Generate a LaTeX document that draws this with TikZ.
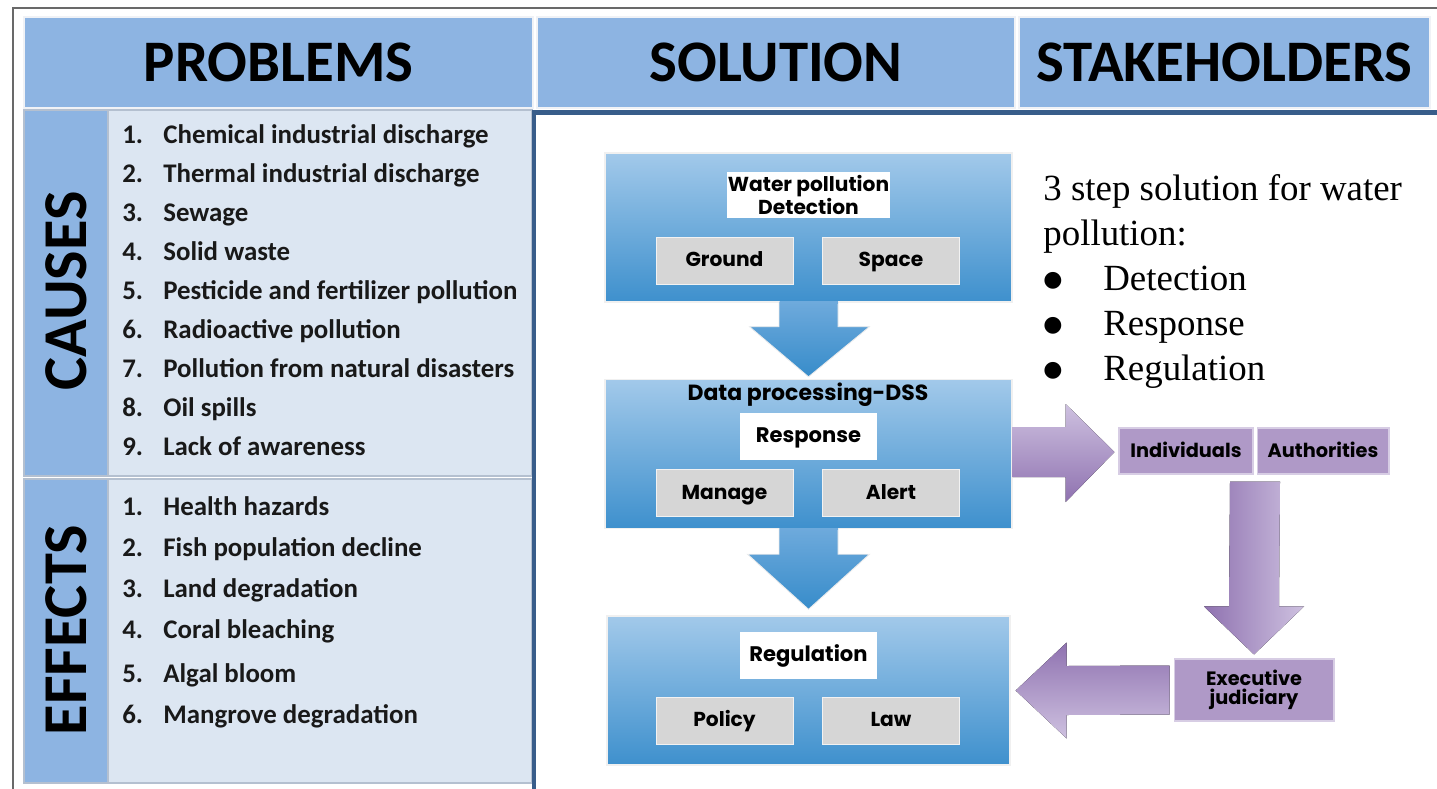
\documentclass[tikz,border=0pt]{standalone}
\usepackage{fontspec}
\setmainfont{Liberation Serif}
\newfontfamily\calib{Carlito}
\newfontfamily\geo{Poppins}
\newfontfamily\dejavu{DejaVu Sans}
\usetikzlibrary{calc}

\definecolor{hdrblue}{RGB}{141,180,226}
\definecolor{paleblue}{RGB}{220,230,242}
\definecolor{cellline}{RGB}{180,192,208}
\definecolor{panelblue}{RGB}{56,93,138}
\definecolor{boxtop}{RGB}{162,201,234}
\definecolor{boxbot}{RGB}{62,144,205}
\definecolor{arrtop}{RGB}{110,170,220}
\definecolor{arrbot}{RGB}{55,140,202}
\definecolor{tagbox}{RGB}{214,214,214}
\definecolor{lilac}{RGB}{175,153,199}
\definecolor{lilacedge}{RGB}{215,205,228}
\definecolor{lilaclight}{RGB}{206,193,224}
\definecolor{lilacdark}{RGB}{143,114,176}
\definecolor{framegray}{RGB}{105,105,105}

\newcommand{\notebullet}{\makebox[1.2cm][l]{\raisebox{2.2pt}{\dejavu\fontsize{12.5}{12.5}\selectfont ●}}}

\tikzset{
  hdrcell/.style={fill=hdrblue, draw=white!80!cellline, line width=1.2pt,
    inner sep=0pt, minimum height=1.82cm, font=\calib\bfseries\fontsize{33.5}{40}\selectfont},
  sidecell/.style={fill=hdrblue, draw=cellline, line width=0.8pt, inner sep=0pt,
    minimum width=1.68cm},
  listcell/.style={fill=paleblue, draw=cellline, line width=0.8pt, inner sep=0pt,
    minimum width=8.48cm},
  sidelabel/.style={rotate=90, font=\calib\bfseries\fontsize{35.5}{40}\selectfont},
  item/.style={anchor=mid west, inner sep=0pt,
    font=\calib\bfseries\fontsize{15.3}{18}\selectfont, text=black!90},
  stepbox/.style={top color=boxtop, bottom color=boxbot, draw=white!88!gray,
    line width=0.8pt, inner sep=0pt, minimum height=2.98cm},
  whitetag/.style={fill=white, inner sep=0pt, align=center,
    font=\geo\bfseries\fontsize{11.5}{11}\selectfont},
  onelinetag/.style={text height=0.72em, text depth=0.02em},
  graytag/.style={fill=tagbox, draw=white!90!gray, line width=0.4pt, inner sep=0pt,
    minimum width=2.74cm, minimum height=0.94cm, onelinetag,
    font=\geo\bfseries\fontsize{11.5}{13}\selectfont},
  purplebox/.style={fill=lilac, draw=lilacedge, line width=0.6pt, inner sep=0pt,
    align=center, font=\geo\bfseries\fontsize{11}{11}\selectfont},
  bluearrow/.style={top color=arrtop, bottom color=arrbot, draw=white!85!gray, line width=0.5pt},
  noteline/.style={anchor=base west, inner sep=0pt,
    font=\fontsize{21}{25}\selectfont},
}

\begin{document}
\begin{tikzpicture}[x=0.02cm, y=-0.02cm]
\useasboundingbox (0,0) rectangle (1437,788);

% outer frame
\draw[framegray, line width=1.1pt] (13,790) -- (13,8) -- (1440,8);

% header row
\node[hdrcell, minimum width=10.18cm] (hprob) at (278.5,62.5) {PROBLEMS};
\node[hdrcell, minimum width=9.56cm]  (hsol)  at (776,62.5)   {SOLUTION};
\node[hdrcell, minimum width=8.22cm]  (hstak) at (1224.5,62.5) {STAKEHOLDERS};

% causes / effects table
\node[sidecell, minimum height=7.32cm] (cside) at (66,293) {};
\node[listcell, minimum height=7.32cm] (clist) at (320,293) {};
\node[sidecell, minimum height=6.08cm] (eside) at (66,631) {};
\node[listcell, minimum height=6.08cm] (elist) at (320,631) {};
\node[sidelabel] (causes)  at (66,291) {CAUSES};
\node[sidelabel] (effects) at (66,630) {EFFECTS};

\foreach \n/\t [count=\i from 0] in {
  1./Chemical industrial discharge,
  2./Thermal industrial discharge,
  3./Sewage,
  4./Solid waste,
  5./Pesticide and fertilizer pollution,
  6./Radioactive pollution,
  7./Pollution from natural disasters,
  8./Oil spills,
  9./Lack of awareness}
  \node[item] (c\i) at (122,{139+39*\i}) {\makebox[0.82cm][l]{\n}\t};

\foreach \n/\t/\yy [count=\i from 0] in {
  1./Health hazards/511,
  2./Fish population decline/552,
  3./Land degradation/593,
  4./Coral bleaching/634,
  5./Algal bloom/678,
  6./Mangrove degradation/719}
  \node[item] (e\i) at (122,\yy) {\makebox[0.82cm][l]{\n}\t};

% solution panel
\draw[panelblue, line width=2.3pt] (534,800) -- (534,112.5) -- (1445,112.5);

% three solution steps
\node[stepbox, minimum width=8.14cm] (b1) at (808.5,227.5) {};
\node[stepbox, minimum width=8.14cm] (b2) at (808.5,454) {};
\node[stepbox, minimum width=8.06cm] (b3) at (808.5,690.5) {};

% block arrows between the steps
\path[bluearrow]
  ($(b1.south)+(-29.5,-1)$) -- ($(b1.south)+(-29.5,24)$) -- ($(b1.south)+(-59,24)$)
  -- ($(b2.north)+(0,-2)$)
  -- ($(b1.south)+(61,24)$) -- ($(b1.south)+(29.5,24)$) -- ($(b1.south)+(29.5,-1)$);
\fill[arrtop] ($(b1.south)+(-29,-1.5)$) rectangle ($(b1.south)+(29,1)$);
\path[bluearrow]
  ($(b2.south)+(-29.5,-1)$) -- ($(b2.south)+(-29.5,25)$) -- ($(b2.south)+(-61,25)$)
  -- ($(b3.north)+(0,-6)$)
  -- ($(b2.south)+(61,25)$) -- ($(b2.south)+(29.5,25)$) -- ($(b2.south)+(29.5,-1)$);
\fill[arrtop] ($(b2.south)+(-29,-1.5)$) rectangle ($(b2.south)+(29,1)$);

% step 1
\node[whitetag, minimum width=3.26cm, minimum height=0.92cm] (detect) at (808.5,195)
  {Water pollution\\Detection};
\node[graytag] (ground) at (724.5,260.5) {Ground};
\node[graytag] (space)  at (891,260.5)   {Space};

% step 2
\node[font=\geo\bfseries\fontsize{12.5}{14}\selectfont, inner sep=0pt] (dss) at (808,395) {Data processing-DSS};
\node[whitetag, minimum width=2.74cm, minimum height=0.94cm, onelinetag,
  font=\geo\bfseries\fontsize{12}{14}\selectfont] (resp) at (808.5,436.5) {Response};
\node[graytag] (manage) at (724.5,493) {Manage};
\node[graytag] (alert)  at (891,493)   {Alert};

% step 3
\node[whitetag, minimum width=2.74cm, minimum height=0.94cm, onelinetag,
  font=\geo\bfseries\fontsize{12}{14}\selectfont] (regul) at (808.5,655) {Regulation};
\node[graytag] (policy) at (724.5,720.5) {Policy};
\node[graytag] (law)    at (891,720.5)   {Law};

% stakeholders
\node[purplebox, minimum width=2.68cm, minimum height=0.92cm, onelinetag] (ind)  at (1186,451) {Individuals};
\node[purplebox, minimum width=2.64cm, minimum height=0.92cm, onelinetag] (auth) at (1323,451) {Authorities};
\node[purplebox, minimum width=3.2cm, minimum height=1.24cm] (exec) at (1254,690) {Executive\\judiciary};

% response -> stakeholders
\coordinate (ra) at ($(b2.east)+(0,-2)$);
\fill[top color=lilaclight, bottom color=lilacdark]
  ($(ra)+(0,-25)$) -- ($(ra)+(53,-25)$) -- ($(ra)+(53,-48)$)
  -- ($(ind.west)+(-4,1)$)
  -- ($(ra)+(53,50)$) -- ($(ra)+(53,25)$) -- ($(ra)+(0,25)$) -- cycle;

% stakeholders -> executive / judiciary
\coordinate (da) at ($(ind.south east)!0.5!(auth.south west)$);
\fill[left color=lilacdark, right color=lilaclight]
  ($(da)+(-25,7)$) -- ($(da)+(25,7)$) -- ($(exec.north)+(25,-52)$)
  -- ($(exec.north)+(50,-52)$) -- ($(exec.north)+(0,-4)$)
  -- ($(exec.north)+(-50,-52)$) -- ($(exec.north)+(-25,-52)$) -- cycle;

% executive / judiciary -> regulation
\fill[top color=lilacdark, bottom color=lilaclight]
  ($(exec.west)+(-4,-24.5)$) -- ($(b3.east)+(56,-24.5)$) -- ($(b3.east)+(56,-48)$)
  -- ($(b3.east)+(5,0)$)
  -- ($(b3.east)+(56,48)$) -- ($(b3.east)+(56,24.5)$) -- ($(exec.west)+(-4,24.5)$) -- cycle;

% summary note
\node[noteline] (n1) at (1043,200) {3 step solution for water};
\node[noteline] (n2) at (1043,245) {pollution:};
\node[noteline] (n3) at (1043,290) {\notebullet Detection};
\node[noteline] (n4) at (1043,335) {\notebullet Response};
\node[noteline] (n5) at (1043,380) {\notebullet Regulation};
\end{tikzpicture}
\end{document}
